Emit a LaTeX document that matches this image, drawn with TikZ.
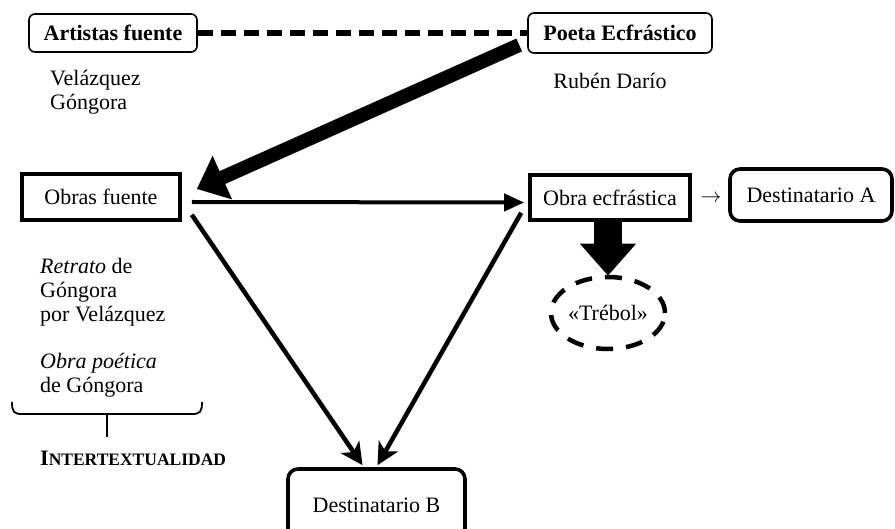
\documentclass[tikz,border=0pt]{standalone}
\usepackage{fontspec}
\setmainfont{Liberation Serif}
\usetikzlibrary{arrows.meta,shapes.geometric}
\begin{document}
\begin{tikzpicture}[x=1pt,y=-1pt,
  every node/.style={font=\fontsize{22}{24}\selectfont, inner sep=0pt},
  thinbox/.style={draw, rounded corners=6pt, line width=1.6pt, font=\fontsize{22}{24}\selectfont\bfseries},
  sqbox/.style={draw, line width=3.6pt},
  rbox/.style={draw, rounded corners=10pt, line width=3.6pt},
  conn/.style={line width=4.5pt, -{Stealth[length=22pt,width=22pt,inset=6pt]}},
  lbl/.style={anchor=west, align=left}
]
\useasboundingbox (0,0) rectangle (895,529);

% boxes
\node[thinbox, minimum width=168pt, minimum height=38pt] (artistas) at (113,33) {Artistas fuente};
\node[thinbox, minimum width=184pt, minimum height=40pt] (poeta) at (620,33) {Poeta Ecfrástico};
\node[sqbox, minimum width=158pt, minimum height=46pt] (obras) at (101,197) {Obras fuente};
\node[sqbox, minimum width=160pt, minimum height=45pt] (ecf) at (610,197.5) {Obra ecfrástica};
\node (flecha) at (711,199) {$\rightarrow$};
\node[rbox, minimum width=162pt, minimum height=52pt] (destA) at (811,195) {Destinatario A};
\node[rbox, minimum width=177pt, minimum height=72pt] (destB) at (376.5,505) {Destinatario B};
\node[ellipse, draw, line width=4.5pt, dash pattern=on 17pt off 13pt, minimum width=114pt, minimum height=72pt] (trebol) at (608,313) {«Trébol»};

% labels
\node[lbl] (vel) at (50,92) {Velázquez\\Góngora};
\node (ruben) at (610,81) {Rubén Darío};
\node[lbl] (retrato) at (40,292) {\textit{Retrato} de\\Góngora\\por Velázquez};
\node[lbl] (obrapoet) at (40,375) {\textit{Obra poética}\\de Góngora};
\node[lbl, font=\fontsize{22}{24}\selectfont\bfseries] (inter) at (40,458) {I{\fontsize{17.5}{20}\selectfont NTERTEXTUALIDAD}};

% brace
\draw[line width=1.8pt] (12,402) .. controls (12,412) and (14,414) .. (22,414) -- (192,414) .. controls (200,414) and (202,412) .. (202,402);
\draw[line width=2.2pt] (107,414) -- (107,437);

% connectors
\draw[line width=6pt, dash pattern=on 15pt off 8pt] (artistas.east) -- (poeta.west);
\draw[line width=14pt, -{Triangle[length=28pt,width=46pt]}] ([xshift=-8pt,yshift=-12pt]poeta.west) -- ([xshift=15pt,yshift=8pt]obras.east);
\draw[line width=4pt, -{Triangle[length=20pt,width=17pt]}] ([xshift=10pt,yshift=-5pt]obras.east) -- ([xshift=-4pt,yshift=-5pt]ecf.west);
\draw[line width=28pt, -{Triangle[length=32pt,width=54pt]}] ([xshift=-2pt,yshift=1pt]ecf.south) -- ([yshift=-1pt]trebol.north);
\draw[conn] ([xshift=10pt,yshift=7pt]obras.south east) -- ([xshift=-14pt,yshift=2pt]destB.north);
\draw[conn] ([xshift=-7pt,yshift=9pt]ecf.south west) -- ([xshift=1pt,yshift=2pt]destB.north);
\end{tikzpicture}
\end{document}
